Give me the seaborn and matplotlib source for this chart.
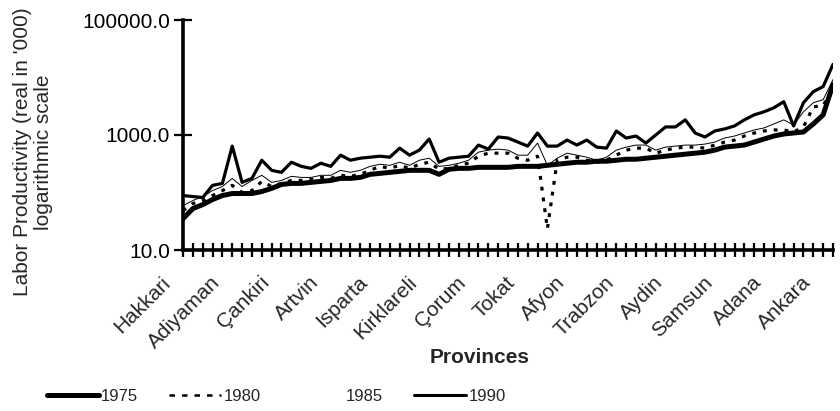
import matplotlib
matplotlib.use("Agg")
import matplotlib.pyplot as plt
import matplotlib.transforms as mtransforms
import numpy as np
import pandas as pd
import seaborn as sns
from matplotlib.ticker import FixedLocator, FuncFormatter, NullLocator, NullFormatter
from matplotlib.lines import Line2D

# ---------------- data ----------------
province_rank = list(range(1, 68))
label_names = ["Hakkari", "Adiyaman", "Çankiri", "Artvin", "Isparta", "Kirklareli",
               "Çorum", "Tokat", "Afyon", "Trabzon", "Aydin", "Samsun", "Adana", "Ankara"]
label_ranks = [1, 6, 11, 16, 21, 26, 31, 36, 41, 46, 51, 56, 61, 66]

y1975 = [35.0, 52.4, 61.6, 75.4, 88.6, 96.0, 96.0, 96.0, 104, 118,
         138, 144, 144, 150, 156, 162, 176, 176, 183, 207,
         215, 224, 233, 243, 243, 243, 207, 253, 263, 263,
         274, 274, 274, 274, 285, 285, 285, 297, 310, 323,
         336, 336, 350, 350, 364, 379, 379, 395, 411, 428,
         446, 464, 483, 503, 546, 616, 641, 668, 754, 851,
         960, 1041, 1084, 1129, 1559, 2243, 7537]
y1980 = [48.3, 64.1, 72.4, 88.6, 108, 133, 100, 108, 156, 127,
         144, 162, 162, 169, 183, 176, 199, 191, 207, 243,
         285, 263, 297, 263, 310, 336, 253, 263, 297, 323,
         428, 483, 483, 483, 395, 364, 428, 23.4, 364, 411,
         411, 364, 336, 364, 446, 546, 591, 591, 483, 546,
         591, 616, 616, 591, 668, 754, 817, 960, 1084, 1175,
         1224, 1224, 1129, 1381, 3099, 3227, 6677]
y1985 = [59.1, 72.4, 85.1, 108, 127, 176, 127, 162, 199, 150,
         162, 191, 183, 183, 199, 199, 243, 224, 243, 285,
         310, 297, 336, 297, 364, 395, 285, 297, 323, 364,
         503, 546, 568, 546, 446, 446, 724, 297, 395, 483,
         446, 411, 364, 411, 546, 616, 668, 668, 546, 616,
         641, 668, 668, 695, 754, 886, 960, 1084, 1224, 1327,
         1559, 1833, 1497, 2532, 3643, 4112, 9224]
y1990 = [88.6, 85.1, 81.7, 133, 144, 641, 150, 176, 364, 243,
         224, 336, 285, 263, 323, 285, 446, 364, 395, 411,
         428, 411, 591, 446, 546, 851, 336, 395, 411, 428,
         668, 568, 922, 886, 754, 641, 1084, 641, 641, 817,
         668, 817, 616, 591, 1175, 886, 960, 724, 1000, 1381,
         1381, 1833, 1084, 922, 1175, 1275, 1438, 1833, 2243, 2532,
         2977, 3793, 1438, 3643, 5681, 6952, 16906]

years = ["1975", "1980", "1985", "1990"]
series = [y1975, y1980, y1985, y1990]

df = pd.concat([pd.DataFrame({"rank": province_rank, "value": s, "year": yr})
                for yr, s in zip(years, series)], ignore_index=True)

# ---------------- style ----------------
sns.set_style("white")
plt.rcParams["font.family"] = ["Liberation Sans", "DejaVu Sans"]

fig = plt.figure(figsize=(8.4, 4.11), dpi=100)
ax = fig.add_axes([183 / 840, 1 - 250 / 411, 650 / 840, 230 / 411])

styles = {
    "1975": dict(lw=3.6, ls="-"),
    "1980": dict(lw=2.3, ls=(0, (1.2, 2.2))),
    "1985": dict(lw=0.7, ls="-"),
    "1990": dict(lw=2.3, ls="-"),
}
for yr in years:
    sub = df[df["year"] == yr]
    sns.lineplot(data=sub, x="rank", y="value", ax=ax, color="black",
                 linewidth=styles[yr]["lw"], linestyle=styles[yr]["ls"],
                 sort=False, estimator=None, legend=False)

ax.set_yscale("log")
ax.set_ylim(10, 100000)
ax.set_xlim(province_rank[0], province_rank[-1])
ax.yaxis.set_major_locator(FixedLocator([10, 1000, 100000]))
ax.yaxis.set_minor_locator(NullLocator())
ax.yaxis.set_major_formatter(FuncFormatter(lambda v, p: f"{v:.1f}"))

ax.set_xticks(province_rank)
ax.xaxis.set_major_formatter(NullFormatter())

ax.tick_params(axis="x", bottom=True, direction="inout", length=10, width=1.6,
               colors="black")
ax.tick_params(axis="y", left=True, direction="inout", length=13, width=1.6, pad=3,
               labelsize=15, colors="black")

# rotated category labels (every fifth province)
lab_trans = ax.get_xaxis_transform() + mtransforms.ScaledTranslation(
    -22 / 100, -23 / 100, fig.dpi_scale_trans)
for r, name in zip(label_ranks, label_names):
    ax.text(r, 0, name, transform=lab_trans, rotation=45, ha="right", va="top",
            rotation_mode="anchor", fontsize=15, clip_on=False)

for side in ["top", "right"]:
    ax.spines[side].set_visible(False)
for side in ["left", "bottom"]:
    ax.spines[side].set_linewidth(2.6)
    ax.spines[side].set_color("black")

ax.set_xlabel("")
ax.set_ylabel("")
ax.grid(False)

fig.text(480 / 840, 1 - 357 / 411, "Provinces", fontsize=15, fontweight="bold",
         ha="center", va="center")
fig.text(33 / 840, 1 - 152 / 411, "Labor Productivity (real in '000)\nlogarithmic scale",
         rotation=90, fontsize=15, ha="center", va="center", multialignment="center",
         linespacing=1.1)

handles = [
    Line2D([], [], color="black", lw=3.6, ls="-"),
    Line2D([], [], color="black", lw=1.8, ls=(0, (2.2, 2.8))),
    Line2D([], [], color="white", lw=0.5, ls="-"),
    Line2D([], [], color="black", lw=2.2, ls="-"),
]
fig.legend(handles, years, loc="center left", bbox_to_anchor=(47 / 840, 1 - 396 / 411),
           ncol=4, frameon=False, handlelength=3.1, handletextpad=0.15,
           columnspacing=1.87, prop={"family": "Liberation Sans", "size": 12},
           borderaxespad=0, borderpad=0)

fig.savefig("out.png", dpi=100)
